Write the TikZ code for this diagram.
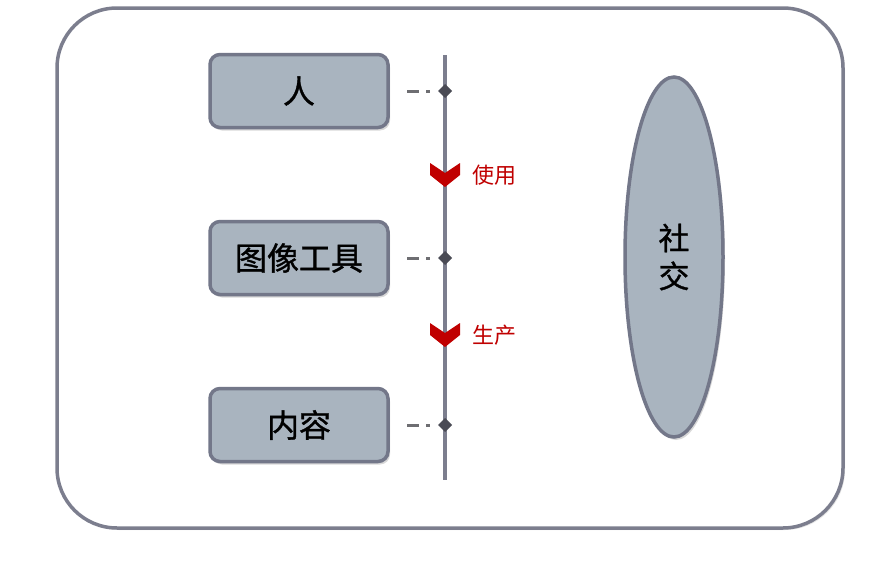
\documentclass[tikz,border=0pt]{standalone}
\usepackage{fontspec}
\setmainfont{Noto Sans CJK SC}
\newfontfamily\medfont{Noto Sans CJK SC}[FakeBold=1]
\usetikzlibrary{arrows,positioning,shadows,shapes.geometric}
\definecolor{boxfill}{HTML}{A9B4BF}
\definecolor{boxline}{HTML}{737789}
\definecolor{axisgray}{HTML}{7C7E8E}
\definecolor{knotgray}{HTML}{4A4B55}
\definecolor{dashgray}{HTML}{6E6E72}
\definecolor{darkred}{HTML}{C00000}
\tikzset{
    %Define style for the outer frame
    frame/.style={
           rectangle,
           rounded corners=60pt,
           draw=axisgray, line width=3.5pt,
           fill=white,
           minimum width=786pt,
           minimum height=520pt,
           drop shadow={opacity=0.2, shadow xshift=2pt, shadow yshift=-2pt}
           },
    %Define style for boxes
    box/.style={
           rectangle,
           rounded corners=10pt,
           draw=boxline, line width=3.5pt,
           fill=boxfill,
           outer sep=0pt,
           minimum width=178pt,
           minimum height=73pt,
           font=\fontsize{32}{36}\medfont,
           text centered,
           drop shadow={opacity=0.3, shadow xshift=2pt, shadow yshift=-3pt}
           },
    oval/.style={
           ellipse,
           draw=boxline, line width=3.5pt,
           fill=boxfill,
           minimum width=98pt,
           minimum height=360pt,
           inner sep=0pt,
           align=center,
           font=\fontsize{31}{38}\medfont,
           drop shadow={opacity=0.3, shadow xshift=2pt, shadow yshift=-3pt}
           },
    knot/.style={
           diamond,
           fill=knotgray,
           minimum width=14pt,
           minimum height=14pt,
           outer sep=0pt,
           inner sep=0pt},
    lbl/.style={
           text=darkred,
           inner sep=0pt,
           font=\fontsize{22}{26}\selectfont},
    % Define line styles
    link/.style={
           draw=dashgray, line width=3pt,
           dash pattern=on 12pt off 7pt on 4pt off 10pt,
           shorten <=19pt},
    axis/.style={
           draw=axisgray, line width=3.5pt}
}
\begin{document}
\begin{tikzpicture}[x=1pt,y=-1pt]
\useasboundingbox (0,0) rectangle (879,562);
 %frame
\node[frame](frame) at (450,268){};
 %axis
\coordinate (top) at (445,55);
\coordinate (bot) at (445,480);
\draw[axis] (top) -- (bot);
 %nodes
\node[box](ren) at (299,91){人};
\node[box, below=94pt of ren](tool){图像工具};
\node[box, below=94pt of tool](content){内容};
\node[knot, right=50pt of ren](k1){};
\node[knot, right=50pt of tool](k2){};
\node[knot, right=50pt of content](k3){};
\draw[link] (ren) -- (k1);
\draw[link] (tool) -- (k2);
\draw[link] (content) -- (k3);
 %chevrons
\coordinate (c1) at (445,175);
\coordinate (c2) at (445,335);
\fill[darkred] ([shift={(-15,-12)}]c1) -- ([shift={(0,-2)}]c1) -- ([shift={(15,-12)}]c1)
   -- ([shift={(15,0)}]c1) -- ([shift={(0,12)}]c1) -- ([shift={(-15,0)}]c1) -- cycle;
\fill[darkred] ([shift={(-15,-12)}]c2) -- ([shift={(0,-2)}]c2) -- ([shift={(15,-12)}]c2)
   -- ([shift={(15,0)}]c2) -- ([shift={(0,12)}]c2) -- ([shift={(-15,0)}]c2) -- cycle;
\node[lbl, right=27pt of c1](use){使用};
\node[lbl, right=27pt of c2](make){生产};
 %social
\node[oval](social) at (674,257){社\\交};
\end{tikzpicture}
\end{document}
